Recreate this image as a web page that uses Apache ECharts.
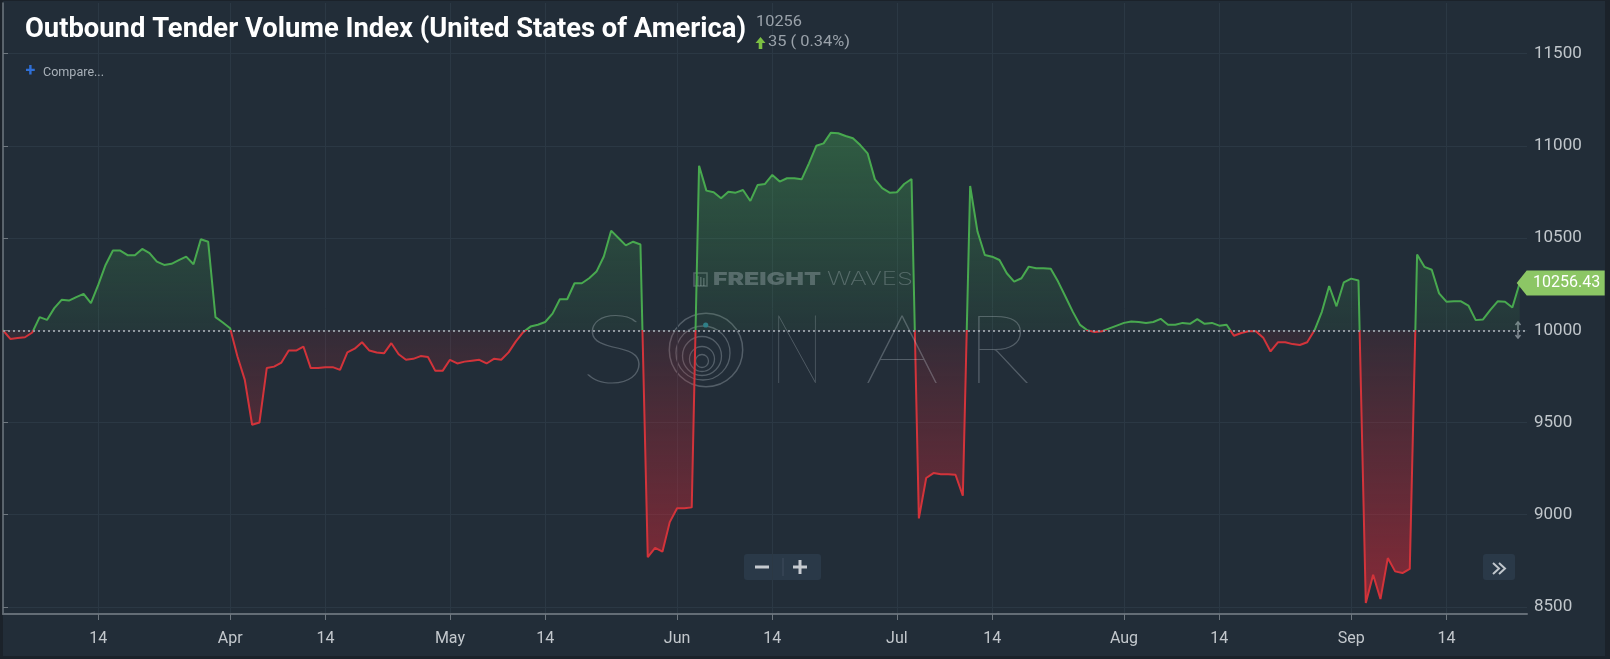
<!DOCTYPE html>
<html><head><meta charset="utf-8">
<script src="https://cdn.jsdelivr.net/npm/echarts@6/dist/echarts.min.js"></script>
<style>
html,body{margin:0;padding:0;background:#1b222a;width:1610px;height:659px;overflow:hidden}
#panel{position:absolute;left:3px;top:1px;width:1602px;height:655px;background:#222d38}
#main{position:absolute;left:0;top:0;width:1610px;height:659px}
</style></head><body><div id="panel"></div><div id="main"></div>
<script>
// ---- data (daily values, index 0 = 2018-03-01) ----
const startDate = '2018-03-01';
const values = [
  10000, 9953, 9958, 9962, 9988, 10071, 10056, 10120, 10165, 10161,
  10180, 10197, 10147, 10246, 10354, 10432, 10432, 10407, 10407, 10441,
  10418, 10372, 10354, 10360, 10380, 10399, 10358, 10493, 10480, 10071,
  10042, 10011, 9858, 9731, 9488, 9500, 9795, 9803, 9825, 9890,
  9890, 9912, 9795, 9795, 9800, 9800, 9785, 9880, 9900, 9935,
  9890, 9880, 9875, 9930, 9870, 9840, 9845, 9860, 9855, 9780,
  9780, 9840, 9820, 9830, 9835, 9840, 9820, 9845, 9840, 9880,
  9940, 9990, 10020, 10030, 10045, 10090, 10168, 10168, 10255, 10255,
  10282, 10318, 10400, 10540, 10500, 10460, 10480, 10465, 8770, 8820,
  8800, 8960, 9035, 9035, 9040, 10892, 10757, 10748, 10716, 10751,
  10746, 10760, 10701, 10788, 10793, 10842, 10806, 10824, 10824, 10818,
  10905, 11000, 11013, 11071, 11068, 11053, 11041, 11004, 10959, 10818,
  10770, 10746, 10748, 10793, 10820, 8980, 9199, 9226, 9220, 9220,
  9217, 9103, 10782, 10535, 10408, 10399, 10381, 10309, 10264, 10282,
  10345, 10336, 10336, 10333, 10264, 10183, 10101, 10029, 10000, 9990,
  9995, 10010, 10025, 10040, 10048, 10045, 10040, 10045, 10062, 10030,
  10030, 10040, 10035, 10060, 10035, 10040, 10025, 10030, 9970, 9985,
  9995, 9995, 9960, 9885, 9935, 9935, 9925, 9920, 9935, 10000,
  10100, 10240, 10130, 10260, 10280, 10270, 8522, 8675, 8543, 8765,
  8693, 8684, 8706, 10411, 10344, 10328, 10200, 10155, 10157, 10157,
  10134, 10055, 10059, 10110, 10157, 10155, 10123, 10256.43
];
const tickDays   = [13, 31, 44, 61, 74, 92, 105, 122, 135, 153, 166, 184, 197];
const tickLabels = ['14','Apr','14','May','14','Jun','14','Jul','14','Aug','14','Sep','14'];
const yTicks = [8500, 9000, 9500, 10000, 10500, 11000, 11500];
const baseline = 10000;
const lastLabel = '10256.43';
const titleText = 'Outbound Tender Volume Index (United States of America)';
const headerValue = '10256';
const headerChange = '35 ( 0.34%)';

// ---- layout ----
const Y_MIN = 8462, Y_MAX = 11774, X_MIN = 0, X_MAX = 208;
const G = {left: 3, right: 83, top: 3, bottom: 45};
const plotTop = G.top, plotBottom = 659 - G.bottom;

const GREEN = '#48a94f', RED = '#d3333a';
const WM = 'rgba(200,208,216,0.30)';

const mctx = document.createElement('canvas').getContext('2d');
function fit(text, font, target) { mctx.font = font; const w = mctx.measureText(text).width; return w > 0 ? target / w : 1; }
function fitInk(text, font, target) {
  mctx.font = font; const m = mctx.measureText(text);
  const w = (m.actualBoundingBoxLeft || 0) + (m.actualBoundingBoxRight || 0);
  return w > 0 ? target / w : fit(text, font, target);
}

function txt(text, x, y, font, fill, opts) {
  opts = opts || {};
  const el = {type: 'text', x: x, y: y, silent: true, z: opts.z || 10,
    style: {text: text, font: font, fill: fill, align: opts.align || 'left', verticalAlign: 'middle',
            textAlign: opts.align || 'left', textVerticalAlign: 'middle'}};
  if (opts.width) el.scaleX = fit(text, font, opts.width);
  if (opts.ink) el.scaleX = fitInk(text, font, opts.ink);
  return el;
}

const chart = echarts.init(document.getElementById('main'), null, {renderer: 'canvas'});
const seriesData = values.map((v, i) => [i, v]);
const baseOff = (Y_MAX - baseline) / (Y_MAX - Y_MIN);
const areaGrad = new echarts.graphic.LinearGradient(0, plotTop, 0, plotBottom, [
  {offset: 0, color: 'rgba(72,175,85,0.55)'},
  {offset: baseOff, color: 'rgba(72,175,85,0.08)'},
  {offset: baseOff, color: 'rgba(205,40,55,0.10)'},
  {offset: 1, color: 'rgba(210,40,55,0.58)'}
], true);
const lineGrad = new echarts.graphic.LinearGradient(0, plotTop, 0, plotBottom, [
  {offset: 0, color: GREEN},
  {offset: baseOff, color: GREEN},
  {offset: baseOff, color: RED},
  {offset: 1, color: RED}
], true);

const graphics = [];
graphics.push(txt(titleText, 25, 30.5, 'bold 27px Roboto', '#ffffff', {width: 721}));
graphics.push(txt(headerValue, 756, 22, '15px Roboto', '#9aa2aa', {width: 46}));
graphics.push({type: 'polygon', silent: true, shape: {points: [[760.5,37],[765.5,43],[762.3,43],[762.3,49],[758.7,49],[758.7,43],[755.5,43]]}, style: {fill: '#7cc043'}});
graphics.push(txt(headerChange, 768, 42.5, '15px Roboto', '#9aa2aa', {width: 82}));
graphics.push(txt('+', 30.5, 71.5, 'bold 18px Roboto', '#2f6fd6', {align: 'center'}));
graphics.push(txt('Compare...', 43, 73, '12px Roboto', '#a8b0b8', {width: 61}));

// FreightWaves watermark
graphics.push({type: 'rect', silent: true, shape: {x: 694, y: 273, width: 13, height: 13}, style: {fill: 'none', stroke: WM, lineWidth: 1.5}});
[697, 700, 703].forEach(function (bx, k) {
  graphics.push({type: 'rect', silent: true, shape: {x: bx, y: 276 + k, width: 1.6, height: 10 - k}, style: {fill: WM}});
});
graphics.push(txt('FREIGHT', 713, 280, '900 18px Inter', WM, {width: 108}));
graphics.push(txt('WAVES', 827, 280, '200 18px Inter', WM, {width: 86}));

// SONAR watermark
const sonarFont = '100 97px Lato';
[['S', 614, 54], ['N', 797, 38], ['A', 902, 70], ['R', 998, 51]].forEach(function (L) {
  graphics.push(txt(L[0], L[1], 352, sonarFont, WM, {align: 'center', ink: L[2]}));
});
graphics.push({type: 'circle', silent: true, shape: {cx: 706, cy: 350, r: 36.7}, style: {fill: 'none', stroke: WM, lineWidth: 1.5}});
[[703, 353, 27], [702, 356, 19.5], [702, 359, 12.5], [702, 361, 6.5]].forEach(function (c) {
  graphics.push({type: 'circle', silent: true, shape: {cx: c[0], cy: c[1], r: c[2]}, style: {fill: 'none', stroke: WM, lineWidth: 1.3}});
});
graphics.push({type: 'circle', silent: true, shape: {cx: 705.7, cy: 325, r: 2.6}, style: {fill: '#2d7b8b'}});

// zoom buttons
graphics.push({type: 'rect', silent: true, shape: {x: 744, y: 554, width: 77, height: 26, r: 3}, style: {fill: '#2a3948'}});
graphics.push({type: 'rect', silent: true, shape: {x: 782.5, y: 558, width: 1, height: 18}, style: {fill: '#3e4d5c'}});
graphics.push({type: 'rect', silent: true, shape: {x: 755, y: 565.5, width: 14, height: 3}, style: {fill: '#c6cbd0'}});
graphics.push({type: 'rect', silent: true, shape: {x: 793, y: 565.5, width: 14, height: 3}, style: {fill: '#c6cbd0'}});
graphics.push({type: 'rect', silent: true, shape: {x: 798.5, y: 560, width: 3, height: 14}, style: {fill: '#c6cbd0'}});
graphics.push({type: 'rect', silent: true, shape: {x: 1483, y: 554, width: 32, height: 26, r: 3}, style: {fill: '#2a3948'}});
graphics.push({type: 'polyline', silent: true, shape: {points: [[1493,563],[1499,568.5],[1493,574]]}, style: {stroke: '#c0c6cc', lineWidth: 2, fill: 'none'}});
graphics.push({type: 'polyline', silent: true, shape: {points: [[1499,563],[1505,568.5],[1499,574]]}, style: {stroke: '#c0c6cc', lineWidth: 2, fill: 'none'}});
// resize handle icon near the baseline end
graphics.push({type: 'polyline', silent: true, shape: {points: [[1515.5,325],[1518,322],[1520.5,325]]}, style: {stroke: '#7d868f', lineWidth: 1.5, fill: 'none'}});
graphics.push({type: 'polyline', silent: true, shape: {points: [[1515.5,335],[1518,338],[1520.5,335]]}, style: {stroke: '#7d868f', lineWidth: 1.5, fill: 'none'}});
graphics.push({type: 'rect', silent: true, shape: {x: 1517.2, y: 322.5, width: 1.6, height: 15}, style: {fill: '#7d868f'}});

chart.setOption({
  backgroundColor: 'transparent',
  animation: false,
  grid: {left: G.left, right: G.right, top: G.top, bottom: G.bottom, containLabel: false},
  xAxis: {
    type: 'value', min: X_MIN, max: X_MAX,
    axisLine: {show: true, lineStyle: {color: '#646d76', width: 2}},
    axisTick: {show: true, length: 6, customValues: tickDays, lineStyle: {color: '#6f7880'}},
    axisLabel: {show: true, customValues: tickDays, margin: 17, color: '#c3c8cd', fontSize: 16, fontFamily: 'Roboto',
      formatter: function (v) { const k = tickDays.indexOf(Math.round(v)); return k >= 0 ? tickLabels[k] : ''; }},
    splitLine: {show: true, lineStyle: {color: '#2b3844', width: 1}}
  },
  yAxis: {
    type: 'value', position: 'right', min: Y_MIN, max: Y_MAX,
    axisLine: {show: true, lineStyle: {color: '#6f7880', width: 1.5}},
    axisTick: {show: true, length: 5, customValues: yTicks, lineStyle: {color: '#6f7880'}},
    axisLabel: {show: true, customValues: yTicks, margin: 7, color: '#c0c6cb', fontSize: 17, fontFamily: 'Roboto',
      formatter: function (v) { return String(Math.round(v)); }},
    splitLine: {show: true, lineStyle: {color: '#2b3844', width: 1}}
  },
  series: [{
    type: 'line', data: seriesData, showSymbol: false, symbol: 'none',
    lineStyle: {width: 2, color: lineGrad}, itemStyle: {color: GREEN}, clip: true,
    areaStyle: {origin: baseline, color: areaGrad, opacity: 1},
    markLine: {silent: true, symbol: 'none', animation: false,
      data: [{yAxis: baseline}], label: {show: false},
      lineStyle: {color: '#979ea5', type: [2, 3], width: 2.2, opacity: 0.95}},
    markPoint: {silent: true, animation: false,
      data: [{coord: [values.length - 1, values[values.length - 1]], value: values[values.length - 1]}],
      symbol: 'path://M0,12.5L10,0L88,0L88,25L10,25Z', symbolSize: [88, 25], symbolKeepAspect: false,
      symbolOffset: [41, 0],
      itemStyle: {color: '#8cc665'},
      label: {show: true, position: 'inside', offset: [6, 0], color: '#ffffff', fontSize: 16, fontFamily: 'Roboto',
        formatter: function () { return lastLabel; }}}
  }],
  graphic: graphics
});
</script></body></html>
